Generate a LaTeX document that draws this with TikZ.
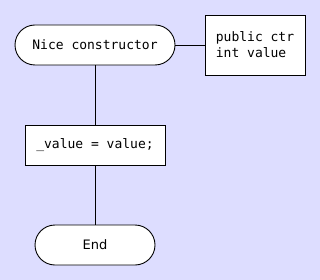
\documentclass[tikz,border=0pt]{standalone}
\usepackage{fontspec}
\setmainfont{DejaVu Sans}
\setmonofont{DejaVu Sans Mono}
\definecolor{bg}{HTML}{DDDDFF}
\begin{document}
\begin{tikzpicture}[x=1pt,y=-1pt,
  every node/.style={font=\fontsize{13}{16}\selectfont, inner sep=0pt},
  terminal/.style={draw, fill=white, rounded corners=20pt, line width=0.9pt},
  stepbox/.style={draw, fill=white, line width=0.9pt},
  link/.style={line width=0.9pt}]
  \fill[bg] (0,0) rectangle (320,280);
  \useasboundingbox (0,0) rectangle (320,280);
  \node[terminal, minimum width=160pt, minimum height=40pt, font=\ttfamily\fontsize{13}{16}\selectfont] (start) at (95,45) {Nice constructor};
  \node[stepbox, minimum width=100pt, minimum height=60pt, align=left, font=\ttfamily\fontsize{13}{16}\selectfont] (params) at (255,45) {public ctr\\int value};
  \node[stepbox, minimum width=140pt, minimum height=40pt, font=\ttfamily\fontsize{13}{16}\selectfont] (assign) at (95,145) {\_value = value;};
  \node[terminal, minimum width=120pt, minimum height=40pt] (end) at (95,245) {End};
  \draw[link] (start) -- (params);
  \draw[link] (start) -- (assign);
  \draw[link] (assign) -- (end);
\end{tikzpicture}
\end{document}
